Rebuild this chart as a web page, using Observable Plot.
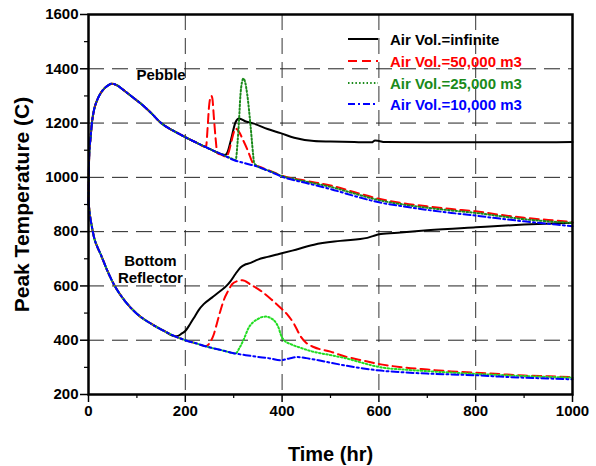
<!DOCTYPE html>
<html><head><meta charset="utf-8">
<script src="https://cdn.jsdelivr.net/npm/d3@7"></script>
<script src="https://cdn.jsdelivr.net/npm/@observablehq/plot@0.6"></script>
<style>
body{margin:0;background:#fff;}
#wrap{position:relative;width:596px;height:466px;font-family:Arial,"Liberation Sans",sans-serif;}
#legend{position:absolute;left:0;top:0;font-weight:bold;font-size:15px;}
.row{position:absolute;height:20px;white-space:nowrap;display:flex;align-items:center;}
.row svg{margin-right:12px;}
</style></head><body><div id="wrap"></div>
<script>
// ---- Data ----
const seriesLabels = ["Air Vol.=infinite", "Air Vol.=50,000 m3", "Air Vol.=25,000 m3", "Air Vol.=10,000 m3"];
const xTicksMajor = [0, 200, 400, 600, 800, 1000];
const xTicksMinor = [100, 300, 500, 700, 900];
const yTicksMajor = [200, 400, 600, 800, 1000, 1200, 1400, 1600];
const yTicksMinor = [300, 500, 700, 900, 1100, 1300, 1500];
const xGrid = [200, 400, 600, 800];
const yGrid = [400, 600, 800, 1000, 1200, 1400];

// Pebble peak temperature: shared early part
const pebbleCommon = [[0,900],[1,1050],[2,1100],[4,1140],[7,1200],[11,1245],[18,1285],[25,1310],[32,1326],[39,1337],[48,1345],[58,1340],[73,1321],[90,1297],[108,1272],[130,1236],[150,1200],[175,1172],[200,1148],[225,1126],[240,1113]];
const pebbleInfinite = [...pebbleCommon, [250,1105],[275,1085],[282,1082],[287,1092],[294,1136],[304,1204],[311,1217],[325,1206],[342,1198],[370,1178],[397,1163],[425,1146],[466,1134],[500,1132],[549,1130],[585,1129],[592,1136],[600,1134],[612,1130],[700,1129],[800,1129],[900,1129],[1000,1130]];
const pebble50k = [...pebbleCommon, [243,1115],[246,1180],[249,1260],[252,1295],[254,1300],[256,1290],[259,1222],[263,1136],[266,1090],[275,1083],[285,1076],[290,1095],[295,1130],[300,1165],[304,1180],[310,1170],[320,1135],[330,1095],[338,1058],[342,1046],[350,1041],[375,1024],[400,1006],[450,987],[500,970],[550,945],[600,921],[650,905],[700,893],[750,883],[800,875],[850,862],[900,851],[950,843],[1000,835]];
const pebble25k = [...pebbleCommon, [250,1105],[275,1085],[300,1066],[304,1063],[308,1130],[311,1210],[314,1305],[317,1350],[320,1364],[323,1355],[328,1305],[335,1186],[340,1087],[342,1055],[346,1045],[375,1023],[400,1005],[450,984],[500,965],[550,940],[600,916],[650,900],[700,888],[750,878],[800,869],[850,857],[900,846],[950,838],[1000,832]];
const pebble10k = [...pebbleCommon, [250,1105],[275,1085],[300,1064],[325,1051],[350,1039],[375,1021],[400,1002],[450,979],[500,957],[550,931],[600,908],[650,893],[700,880],[750,869],[800,859],[850,848],[900,838],[950,829],[1000,820]];

// Bottom reflector peak temperature: shared early part
const reflCommon = [[0,910],[3,860],[7,818],[12,775],[18,745],[25,717],[38,660],[52,607],[75,545],[101,496],[130,460],[156,434],[178,415]];
const reflInfinite = [...reflCommon, [185,416],[193,425],[200,434],[210,460],[218,483],[228,512],[238,533],[255,557],[273,582],[285,600],[294,619],[304,645],[314,668],[325,680],[335,685],[350,697],[370,707],[390,716],[421,730],[466,752],[520,766],[576,777],[590,785],[604,791],[645,797],[700,805],[800,816],[900,826],[1000,833]];
const refl50k = [...reflCommon, [200,400],[225,387],[240,379],[245,380],[252,395],[259,422],[265,460],[272,505],[280,550],[288,580],[297,607],[308,618],[318,621],[335,605],[356,582],[378,550],[400,514],[413,490],[425,459],[438,415],[450,390],[465,375],[500,358],[530,340],[565,326],[604,311],[650,300],[700,292],[750,285],[800,280],[850,275],[900,270],[950,267],[1000,264]];
const refl25k = [...reflCommon, [200,400],[225,387],[245,376],[275,363],[300,352],[304,351],[312,372],[320,400],[331,446],[340,466],[349,477],[358,485],[366,487],[376,482],[387,465],[393,445],[397,422],[404,400],[420,384],[440,371],[459,360],[500,345],[528,335],[563,318],[604,300],[650,292],[700,286],[800,276],[900,268],[1000,262]];
const refl10k = [...reflCommon, [200,400],[225,387],[245,376],[275,363],[300,352],[325,345],[349,339],[375,333],[397,326],[415,333],[432,338],[450,334],[475,326],[500,317],[550,301],[604,288],[650,282],[700,277],[750,274],[800,271],[850,266],[900,262],[950,259],[1000,256]];

const annotations = [{t: 150, T: 1377, text: "Pebble"}, {t: 128, T: 661, text: "Bottom\nReflector"}];

// ---- Styles ----
const styles = [
  {color: "#000000", dash: null, width: 2},
  {color: "#ff0000", dash: "9,5", width: 2},
  {color: "#1a8a1a", dash: "1.5,2.2", width: 2},
  {color: "#0000ff", dash: "7,3,2,3", width: 2}
];
const lowerGreen = "#22dd22";

const pebbleSeries = [pebbleInfinite, pebble50k, pebble25k, pebble10k];
const reflSeries = [reflInfinite, refl50k, refl25k, refl10k];

const X = d => d[0], Y = d => d[1];
const lineMarks = [];
for (let i = 0; i < 4; i++) {
  const s = styles[i];
  lineMarks.push(Plot.line(pebbleSeries[i], {x: X, y: Y, stroke: s.color, strokeWidth: s.width, strokeDasharray: s.dash, curve: "monotone-x"}));
  lineMarks.push(Plot.line(reflSeries[i], {x: X, y: Y, stroke: i === 2 ? lowerGreen : s.color, strokeWidth: s.width, strokeDasharray: s.dash, curve: "monotone-x"}));
}

const font = "Arial, 'Liberation Sans', sans-serif";
const plain = d => String(d);
const chart = Plot.plot({
  width: 596, height: 466,
  marginLeft: 88, marginRight: 24, marginTop: 14, marginBottom: 72,
  style: {fontFamily: font, fontSize: "15px", fontWeight: "bold", color: "#000", background: "#fff"},
  x: {domain: [0, 1000]},
  y: {domain: [200, 1600]},
  marks: [
    Plot.gridX(xGrid, {stroke: "#333", strokeOpacity: 1, strokeWidth: 1, strokeDasharray: "16,8"}),
    Plot.gridY(yGrid, {stroke: "#222", strokeOpacity: 1, strokeWidth: 1, strokeDasharray: "16,8"}),
    ...lineMarks,
    Plot.text(annotations, {x: "t", y: "T", text: "text", fontSize: 15, fontWeight: "bold", lineHeight: 1.08, fill: "#000"}),
    Plot.axisX(xTicksMajor, {tickSize: 8, tickPadding: 3, tickFormat: plain, label: null, strokeWidth: 1.5}),
    Plot.axisX(xTicksMinor, {tickSize: 4, tickFormat: () => "", label: null, strokeWidth: 1.2}),
    Plot.axisY(yTicksMajor, {tickSize: 8, tickPadding: 2, tickFormat: plain, label: null, strokeWidth: 1.5}),
    Plot.axisY(yTicksMinor, {tickSize: 4, tickFormat: () => "", label: null, strokeWidth: 1.2}),
    Plot.frame({stroke: "#000", strokeWidth: 2.5}),
    Plot.text(["Time (hr)"], {frameAnchor: "bottom", dy: 66, fontSize: 20, fontWeight: "bold", fill: "#000"}),
    Plot.text(["Peak Temperature (C)"], {frameAnchor: "left", textAnchor: "middle", dx: -66, rotate: -90, fontSize: 21, fontWeight: "bold", fill: "#000"})
  ]
});

const wrap = document.getElementById("wrap");
wrap.appendChild(chart);

// Legend overlay (inside plot, upper right)
const legend = document.createElement("div");
legend.id = "legend";
const legendRowsY = [39, 61, 83, 104];
seriesLabels.forEach((lab, i) => {
  const s = styles[i];
  const row = document.createElement("div");
  row.className = "row";
  row.style.left = "348px";
  row.style.top = (legendRowsY[i] - 10) + "px";
  row.style.color = s.color;
  const svg = d3.create("svg").attr("width", 30).attr("height", 20);
  svg.append("line").attr("x1", 0).attr("x2", 30).attr("y1", 10).attr("y2", 10)
    .attr("stroke", s.color).attr("stroke-width", s.width).attr("stroke-dasharray", s.dash);
  row.appendChild(svg.node());
  const span = document.createElement("span");
  span.textContent = lab;
  row.appendChild(span);
  legend.appendChild(row);
});
wrap.appendChild(legend);
</script>
</body></html>
